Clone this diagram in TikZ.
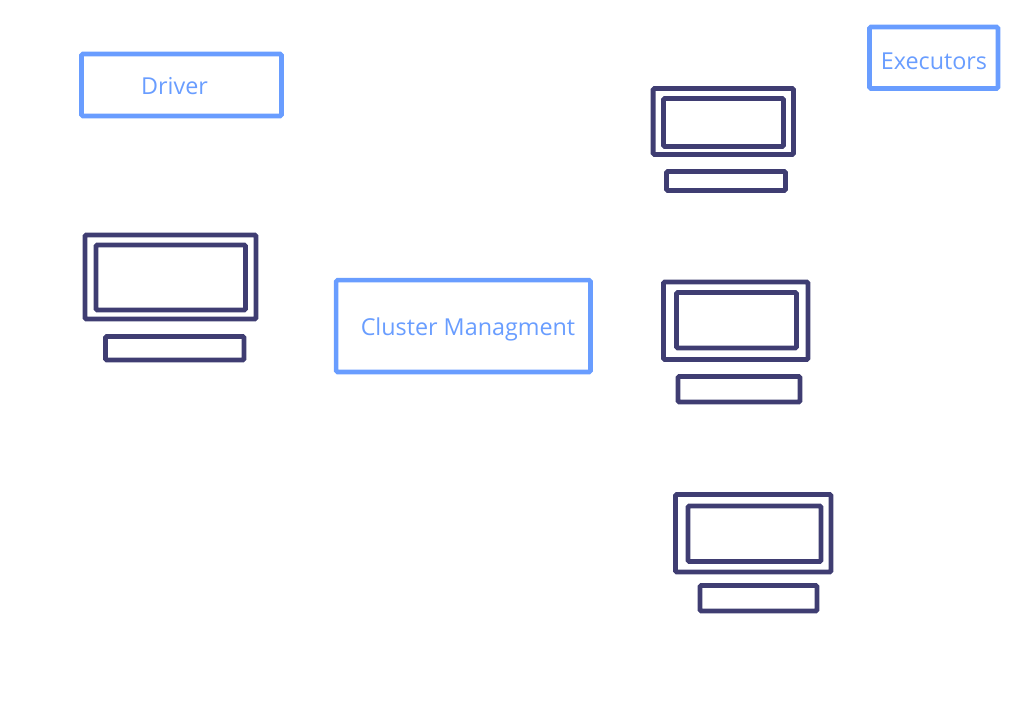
\documentclass[tikz,border=0pt]{standalone}
\usepackage{fontspec}
\setmainfont{Open Sans}
\definecolor{label}{HTML}{699DFF}
\definecolor{screen}{HTML}{3F3D72}
\tikzset{
  tag/.style={draw=label, line width=3.4pt, rounded corners=1pt},
  part/.style={draw=screen, line width=3.7pt, rounded corners=1pt},
  lab/.style={text=label, font=\fontsize{17.5}{20}\selectfont, inner sep=0pt, anchor=base},
}

\begin{document}
\begin{tikzpicture}[x=0.75pt,y=-0.75pt]
  \useasboundingbox (0,0) rectangle (1024,720);
  % labelled boxes
  \draw[tag] (81.5,54) rectangle (281.5,116);
  \draw[tag] (336.2,280.2) rectangle (590.5,372);
  \draw[tag] (869.5,27) rectangle (998,88.5);
  \node[lab] (driver) at (174.5,94.5) {Driver};
  \node[lab] (cluster) at (468,335) {Cluster Managment};
  \node[lab] (executors) at (934,69.3) {Executors};
  % machines: screen, inner screen, stand
  \foreach \xa/\ya/\xb/\yb/\xc/\yc/\xd/\yd/\xe/\ye/\xf/\yf in {
    85/235/256/319/96/245/245.5/310/105.5/336.5/244/360,
    653.2/88.5/793.5/154.5/663.5/98.5/783.5/146.5/666.5/171.5/785.5/190.5,
    663.5/282/808/359.5/676.5/292.5/796.5/348/678/376.5/800/402,
    675.5/494.5/831/572/688/506/821/561.5/700/585.5/817/611}{
    \draw[part] (\xa,\ya) rectangle (\xb,\yb);
    \draw[part] (\xc,\yc) rectangle (\xd,\yd);
    \draw[part] (\xe,\ye) rectangle (\xf,\yf);
  }
\end{tikzpicture}
\end{document}
